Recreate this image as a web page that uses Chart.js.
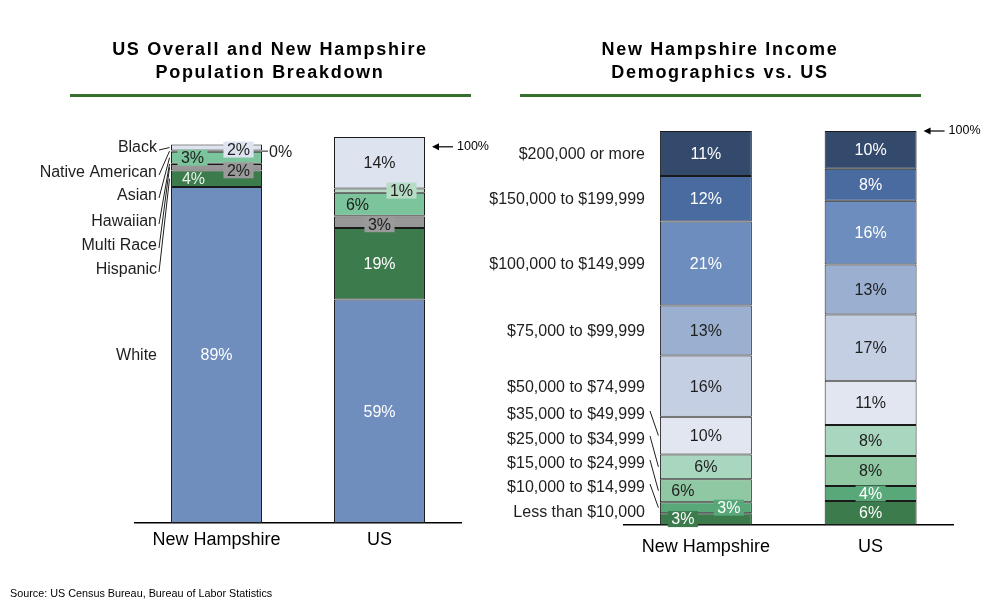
<!DOCTYPE html>
<html>
<head>
<meta charset="utf-8">
<script src="https://cdn.jsdelivr.net/npm/chart.js@4.4.1/dist/chart.umd.min.js"></script>
<style>
  body { margin: 0; background: #fff; width: 1008px; height: 610px; overflow: hidden; position: relative;
         font-family: "Liberation Sans", Arial, sans-serif; }
  canvas { position: absolute; top: 0; }
  .title { position: absolute; top: 38px; width: 460px; text-align: center; font-weight: bold;
           font-size: 18px; letter-spacing: 1.7px; line-height: 23px; color: #000; }
  .rule { position: absolute; top: 94px; height: 3px; background: #35702f; }
  .source { position: absolute; left: 10px; top: 587px; font-size: 10.8px; color: #000; }
</style>
</head>
<body>
<canvas id="raceChart" width="500" height="610" style="left:0"></canvas>
<canvas id="incomeChart" width="538" height="610" style="left:470px"></canvas>
<div class="title" style="left:40px">US Overall and New Hampshire<br>Population Breakdown</div>
<div class="rule" style="left:70px;width:401px"></div>
<div class="title" style="left:490px">New Hampshire Income<br>Demographics vs. US</div>
<div class="rule" style="left:520px;width:401px"></div>
<div class="source">Source: US Census Bureau, Bureau of Labor Statistics</div>

<script>
// ── DATA ───────────────────────────────────────────────
const catNames = ['New Hampshire', 'US'];

// stacked bottom -> top
const raceNames = ['White', 'Hispanic', 'Multi Race', 'Hawaiian', 'Asian', 'Native American', 'Black'];
const nhRace    = [89.3, 4.4, 1.7, 0.1, 3.2, 0.3, 1.6];
const usRace    = [59.4, 19.0, 3.1, 0.2, 6.1, 1.1, 13.7];

const incomeNames = ['Less than $10,000', '$10,000 to $14,999', '$15,000 to $24,999', '$25,000 to $34,999',
                     '$35,000 to $49,999', '$50,000 to $74,999', '$75,000 to $99,999', '$100,000 to $149,999',
                     '$150,000 to $199,999', '$200,000 or more'];
const nhIncome = [3.0, 2.8, 5.8, 6.3, 9.6, 15.5, 12.7, 21.3, 11.6, 11.4];
const usIncome = [6.1, 3.8, 7.6, 7.9, 11.2, 16.8, 12.7, 16.2, 8.1, 9.6];

// ── STYLES ─────────────────────────────────────────────
const FONT = '"Liberation Sans", Arial, sans-serif';
const DARK = '#1e1e1e';

const raceColors = ['#6f8ebe', '#3b7b4c', '#979797', '#111111', '#7cc49c', '#b7dcc6', '#dde3ef'];
const incomeColors = ['#3b7b4c', '#58a879', '#8fc8a3', '#a9d6bf', '#e1e6f0',
                      '#c4cfe3', '#9bb0d1', '#6d8dbf', '#4a6b9f', '#344a6c'];

// per segment label look: [NH, US]; null = no label
const raceLabelStyle = [
  [{ c: '#fff' }, { c: '#fff' }],
  [{ dx: -23, c: '#e8f4ea' }, { c: '#fff' }],
  [{ dx: 22, dy: 3, box: '#9a9a9a', c: DARK }, { dy: 2, box: '#9a9a9a', c: DARK }],
  [null, null],
  [{ dx: -24, box: '#7cc49c', c: DARK }, { dx: -22, c: DARK }],
  [{ outside: true, c: DARK }, { dx: 22, box: '#b7dcc6', c: DARK }],
  [{ dx: 22, dy: 2, box: '#dde3ef', c: DARK }, { c: DARK }]
];
const incomeLabelStyle = [
  [{ dx: -23, box: '#3b7b4c', c: '#fff' }, { c: '#fff' }],
  [{ dx: 23, box: '#58a879', c: '#fff' }, { box: '#58a879', c: '#fff' }],
  [{ dx: -23, c: DARK }, { c: DARK }],
  [{ c: DARK }, { c: DARK }],
  [{ c: DARK }, { c: DARK }],
  [{ c: DARK }, { c: DARK }],
  [{ c: DARK }, { c: DARK }],
  [{ c: '#fff' }, { c: '#fff' }],
  [{ c: '#fff' }, { c: '#fff' }],
  [{ c: '#fff' }, { c: '#fff' }]
];

// row captions on the left of the NH bar: fixed y, or null = centred on the segment
const raceCaptionY   = [null, 270, 246, 222, 196, 173, 148];
const incomeCaptionY = [513, 488, 464, 440, 415, null, null, null, null, null];


// ── HELPERS ────────────────────────────────────────────
function segment(chart, di, bi) {
  const el = chart.getDatasetMeta(di).data[bi];
  return { x: el.x, mid: (el.y + el.base) / 2, left: el.x - el.width / 2, right: el.x + el.width / 2 };
}

function drawArrow(ctx, x, y, text) {
  ctx.strokeStyle = '#000';
  ctx.lineWidth = 1.2;
  ctx.beginPath(); ctx.moveTo(x + 5, y); ctx.lineTo(x + 21, y); ctx.stroke();
  ctx.fillStyle = '#000';
  ctx.beginPath(); ctx.moveTo(x, y); ctx.lineTo(x + 7, y - 3.5); ctx.lineTo(x + 7, y + 3.5); ctx.closePath(); ctx.fill();
  ctx.font = '12.5px ' + FONT;
  ctx.textAlign = 'left';
  ctx.textBaseline = 'middle';
  ctx.fillText(text, x + 25, y);
}

// values, captions, leader lines and the 100% marker
function makeLabelPlugin(names, values, styles, captionY, captionX, leader) {
  return {
    id: 'segLabels',
    afterDatasetsDraw(chart) {
      const ctx = chart.ctx;
      ctx.save();

      // segment values
      ctx.font = '16px ' + FONT;
      ctx.textAlign = 'center';
      ctx.textBaseline = 'middle';
      values.forEach((series, bi) => {
        series.forEach((v, di) => {
          const st = styles[di][bi];
          if (!st) return;
          const s = segment(chart, di, bi);
          const text = Math.round(v) + '%';
          if (st.outside) {
            ctx.strokeStyle = DARK; ctx.lineWidth = 1;
            ctx.beginPath(); ctx.moveTo(s.right, s.mid); ctx.lineTo(s.right + 6, s.mid); ctx.stroke();
            ctx.fillStyle = st.c;
            ctx.textAlign = 'left';
            ctx.fillText(text, s.right + 7, s.mid + 1);
            ctx.textAlign = 'center';
            return;
          }
          const x = s.x + (st.dx || 0);
          const y = s.mid + (st.dy || 0);
          if (st.box) {
            const w = ctx.measureText(text).width + 7;
            ctx.fillStyle = st.box;
            ctx.fillRect(x - w / 2, y - 8, w, 16);
          }
          ctx.fillStyle = st.c;
          ctx.fillText(text, x, y + 1);
        });
      });

      // row captions with leader lines
      ctx.font = '16px ' + FONT;
      ctx.textAlign = 'right';
      ctx.fillStyle = DARK;
      ctx.strokeStyle = DARK;
      ctx.lineWidth = 1;
      names.forEach((n, di) => {
        const s = segment(chart, di, 0);
        const y = captionY[di] === null ? s.mid + 1 : captionY[di];
        ctx.fillText(n, captionX, y);
        if (captionY[di] !== null && (leader.all || di > 0)) {
          ctx.beginPath();
          ctx.moveTo(captionX + leader.gap, y + leader.dy);
          ctx.lineTo(s.left - 1.5, s.mid);
          ctx.stroke();
        }
      });

      // 100% marker next to the US bar
      const us = segment(chart, 0, 1);
      drawArrow(ctx, us.right + 7, chart.scales.y.getPixelForValue(100), '100%');
      ctx.restore();
    }
  };
}

function buildStacked(canvasId, names, nh, us, colors, yMax, padding, tickPad, plugin) {
  const ctx = document.getElementById(canvasId).getContext('2d');
  new Chart(ctx, {
    type: 'bar',
    data: {
      labels: catNames,
      datasets: names.map((n, i) => ({
        label: n,
        data: [nh[i], us[i]],
        backgroundColor: colors[i],
        borderColor: '#1a1a1a',
        borderWidth: 1,
        borderSkipped: false,
        barPercentage: 0.558,
        categoryPercentage: 1
      }))
    },
    options: {
      responsive: false,
      animation: false,
      layout: { padding: padding },
      plugins: { legend: { display: false }, tooltip: { enabled: false } },
      scales: {
        x: {
          stacked: true,
          grid: { display: false, drawTicks: false },
          border: { display: true, color: '#000', width: 1.5 },
          ticks: { color: '#000', padding: tickPad, font: { family: FONT, size: 18 } },
          afterFit: scale => { scale.height = 40; }
        },
        y: { stacked: true, display: false, min: 0, max: yMax }
      }
    },
    plugins: [plugin]
  });
}


// ── INIT ───────────────────────────────────────────────
function init() {
  // left canvas spans x 0..500 of the page (transparent, overlaps the right one)
  buildStacked('raceChart', raceNames, nhRace, usRace, raceColors, 105,
    { left: 135, right: 39, top: 128, bottom: 47 }, 6,
    makeLabelPlugin(raceNames, [nhRace, usRace], raceLabelStyle, raceCaptionY, 157, { gap: 2, dy: 2, all: true }));

  // right canvas spans x 470..1008 of the page
  buildStacked('incomeChart', incomeNames, nhIncome, usIncome, incomeColors, 100,
    { left: 153.5, right: 55, top: 131, bottom: 45 }, 11,
    makeLabelPlugin(incomeNames, [nhIncome, usIncome], incomeLabelStyle, incomeCaptionY, 175, { gap: 5, dy: -4, all: false }));
}

window.onload = init;
</script>
</body>
</html>
